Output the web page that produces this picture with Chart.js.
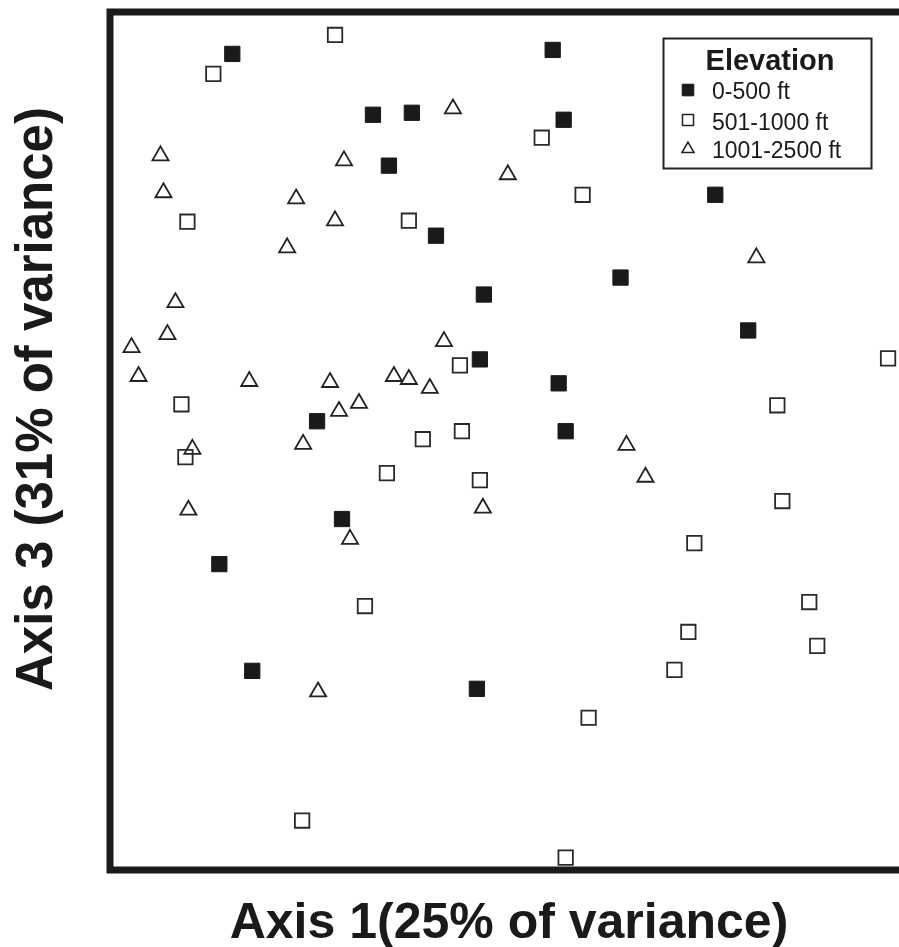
<!DOCTYPE html>
<html>
<head>
<meta charset="utf-8">
<title>Ordination by elevation</title>
<script src="https://cdn.jsdelivr.net/npm/chart.js"></script>
<style>
  html, body { margin: 0; padding: 0; background: #fff; overflow: hidden; }
  canvas { display: block; }
</style>
</head>
<body>
<canvas id="chart" width="920" height="947"></canvas>
<script>
// Ordination scores (no tick marks, so units are arbitrary)
const lowX = [-1.387, -0.682, -0.487, -0.602, -0.366, -0.126, 0.219, 0.274, 1.034, 0.559,
  1.199, -0.146, 0.249, 0.284, -0.962, -0.837, -1.452, -1.287, -0.161];
const lowY = [1.940, 1.635, 1.645, 1.380, 1.029, 0.734, 1.960, 1.610, 1.234, 0.819,
  0.554, 0.409, 0.289, 0.049, 0.099, -0.391, -0.617, -1.152, -1.242];

const midX = [-0.872, -1.482, -1.612, -0.502, 0.164, 0.369, 1.900, 1.345, 1.370, 0.929,
  -0.246, -1.642, -1.622, -0.432, -0.236, -0.612, -0.146, -0.722, -1.037, 1.505,
  0.899, 1.545, 0.829, 0.399, 0.284];
const midY = [2.035, 1.840, 1.099, 1.104, 1.520, 1.234, 0.414, 0.179, -0.301, -0.512,
  0.379, 0.184, -0.081, 0.009, 0.049, -0.161, -0.196, -0.827, -1.902, -0.807,
  -0.957, -1.027, -1.147, -1.387, -2.088];

const highX = [-0.281, -1.747, -0.827, -1.732, -1.067, -0.872, -1.112, -0.006, 1.240, -1.672,
  -1.712, -1.892, -1.857, -0.326, -1.302, -0.897, -0.577, -0.502, -0.397, -0.752,
  -0.852, -1.032, -1.587, -1.607, -0.131, -0.797, 0.589, 0.684, -0.957];
const highY = [1.665, 1.430, 1.405, 1.245, 1.214, 1.104, 0.969, 1.335, 0.919, 0.694,
  0.534, 0.469, 0.324, 0.499, 0.299, 0.294, 0.324, 0.309, 0.264, 0.189,
  0.149, -0.016, -0.041, -0.346, -0.336, -0.492, -0.021, -0.181, -1.257];

const groupLabels = ['0-500 ft', '501-1000 ft', '1001-2500 ft'];
const legendTitle = 'Elevation';
const xTitle = 'Axis 1(25% of variance)';
const yTitle = 'Axis 3 (31% of variance)';

const FONT = '"Liberation Sans", Arial, Helvetica, sans-serif';
const INK = '#1a1a1a';

function toPoints(xs, ys) {
  return xs.map((x, i) => ({ x: x, y: ys[i] }));
}

// legend marker sizes are smaller than the plotted ones
const legendMarkers = [
  { pointStyle: 'rect', radius: 8.2, borderWidth: 1, fill: INK, stroke: INK },
  { pointStyle: 'rect', radius: 7.8, borderWidth: 1.5, fill: 'rgba(0,0,0,0)', stroke: '#222' },
  { pointStyle: 'triangle', radius: 7, borderWidth: 1.5, fill: 'rgba(0,0,0,0)', stroke: '#222' },
];

/**
 * Frame, axis titles and boxed legend
 */
const decorations = {
  id: 'decorations',
  afterDatasetsDraw(chart) {
    const ctx = chart.ctx;
    const a = chart.chartArea;
    ctx.save();

    // heavy frame round the plot area
    ctx.strokeStyle = INK;
    ctx.lineWidth = 7;
    ctx.lineJoin = 'miter';
    ctx.strokeRect(a.left, a.top, a.right - a.left, a.bottom - a.top);

    // legend box
    const bx = 663.5, by = 38.5, bw = 208, bh = 130;
    ctx.fillStyle = '#fff';
    ctx.fillRect(bx, by, bw, bh);
    ctx.strokeStyle = '#222';
    ctx.lineWidth = 2;
    ctx.strokeRect(bx, by, bw, bh);

    ctx.fillStyle = INK;
    ctx.textAlign = 'center';
    ctx.textBaseline = 'alphabetic';
    ctx.font = 'bold 29px ' + FONT;
    ctx.fillText(legendTitle, 770, 70);

    const rowY = [90, 120, 149];
    const baseY = [99, 130, 158];
    ctx.font = '23px ' + FONT;
    ctx.textAlign = 'left';
    groupLabels.forEach((label, i) => {
      const m = legendMarkers[i];
      ctx.fillStyle = m.fill;
      ctx.strokeStyle = m.stroke;
      ctx.lineWidth = m.borderWidth;
      Chart.helpers.drawPoint(ctx, m, 688, rowY[i]);
      ctx.fillStyle = INK;
      ctx.fillText(label, 712, baseY[i]);
    });

    // axis titles
    ctx.fillStyle = INK;
    ctx.font = 'bold 50px ' + FONT;
    ctx.textAlign = 'center';
    ctx.fillText(xTitle, (a.left + a.right) / 2, 938);

    ctx.translate(52, 399);
    ctx.rotate(-Math.PI / 2);
    ctx.font = 'bold 51px ' + FONT;
    ctx.fillText(yTitle, 0, 0);

    ctx.restore();
  },
};

new Chart(document.getElementById('chart'), {
  type: 'scatter',
  data: {
    datasets: [
      {
        label: groupLabels[0],
        data: toPoints(lowX, lowY),
        pointStyle: 'rect',
        pointRadius: 10.8,
        backgroundColor: INK,
        borderColor: INK,
        borderWidth: 1,
      },
      {
        label: groupLabels[1],
        data: toPoints(midX, midY),
        pointStyle: 'rect',
        pointRadius: 10.2,
        backgroundColor: 'rgba(0,0,0,0)',
        borderColor: '#2a2a2a',
        borderWidth: 1.8,
      },
      {
        label: groupLabels[2],
        data: toPoints(highX, highY),
        pointStyle: 'triangle',
        pointRadius: 9.3,
        backgroundColor: 'rgba(0,0,0,0)',
        borderColor: '#222',
        borderWidth: 1.8,
      },
    ],
  },
  options: {
    responsive: false,
    animation: false,
    events: [],
    layout: {
      padding: { left: 110, top: 10, right: 10, bottom: 77 },
    },
    plugins: {
      legend: { display: false },
      tooltip: { enabled: false },
    },
    scales: {
      x: { type: 'linear', min: -2, max: 2, display: false },
      y: { type: 'linear', min: -2.15, max: 2.15, display: false },
    },
  },
  plugins: [decorations],
});
</script>
</body>
</html>
